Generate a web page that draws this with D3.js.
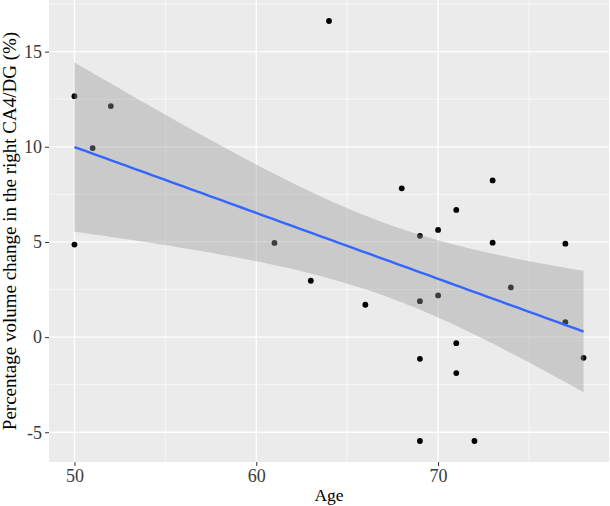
<!DOCTYPE html>
<html>
<head>
<meta charset="utf-8">
<script src="https://d3js.org/d3.v7.min.js"></script>
<style>
  body { margin: 0; background: #fff; }
  text { font-family: "Liberation Serif", "Times New Roman", serif; }
</style>
</head>
<body>
<svg id="chart" width="610" height="506"></svg>
<script>
  // values
  const ages = [50, 50, 51, 52, 61, 63, 64, 66, 68, 69, 69, 69, 69, 70, 70, 71, 71, 71, 72, 73, 73, 74, 77, 77, 78];
  const change = [12.66, 4.86, 9.93, 12.14, 4.95, 2.96, 16.61, 1.70, 7.82, 5.32, 1.89, -1.14, -5.46, 5.63, 2.19,
                  6.68, -0.32, -1.89, -5.46, 8.23, 4.96, 2.61, 4.91, 0.79, -1.09];
  const xTicks = [50, 60, 70];
  const yTicks = [-5, 0, 5, 10, 15];
  const xMinor = [55, 65, 75];
  const yMinor = [-2.5, 2.5, 7.5, 12.5, 17.5];

  const svg = d3.select("#chart");
  const margin = { top: 0, right: 1, bottom: 44, left: 49 };
  const width = +svg.attr("width") - margin.left - margin.right;
  const height = +svg.attr("height") - margin.top - margin.bottom;

  const data = ages.map((a, i) => ({ age: a, val: change[i] }));

  // linear fit + 95% band, like geom_smooth(method = "lm")
  const n = data.length;
  const mx = d3.mean(ages), my = d3.mean(change);
  const sxx = d3.sum(ages, a => (a - mx) * (a - mx));
  const sxy = d3.sum(data, d => (d.age - mx) * (d.val - my));
  const slope = sxy / sxx, icpt = my - slope * mx;
  const sse = d3.sum(data, d => Math.pow(d.val - (icpt + slope * d.age), 2));
  const s = Math.sqrt(sse / (n - 2));
  const tq = 2.0687; // qt(0.975, 23)
  const xr = d3.extent(ages);
  const fit = d3.range(80).map(i => {
    const x = xr[0] + (xr[1] - xr[0]) * i / 79;
    const y = icpt + slope * x;
    const se = s * Math.sqrt(1 / n + (x - mx) * (x - mx) / sxx);
    return { x: x, y: y, lo: y - tq * se, hi: y + tq * se };
  });

  const ye = d3.extent(change);
  const xPad = (xr[1] - xr[0]) * 0.05, yPad = (ye[1] - ye[0]) * 0.05;
  const x = d3.scaleLinear().domain([xr[0] - xPad, xr[1] + xPad]).range([0, width]);
  const y = d3.scaleLinear().domain([ye[0] - yPad, ye[1] + yPad]).range([height, 0]);

  const g = svg.append("g").attr("transform", "translate(" + margin.left + "," + margin.top + ")");

  g.append("rect").attr("width", width).attr("height", height).attr("fill", "#ebebeb");

  // gridlines
  g.selectAll(".ymin").data(yMinor).join("line")
    .attr("x1", 0).attr("x2", width).attr("y1", d => y(d)).attr("y2", d => y(d))
    .attr("stroke", "#fff").attr("stroke-width", 0.6);
  g.selectAll(".xmin").data(xMinor).join("line")
    .attr("y1", 0).attr("y2", height).attr("x1", d => x(d)).attr("x2", d => x(d))
    .attr("stroke", "#fff").attr("stroke-width", 0.6);
  g.selectAll(".ymaj").data(yTicks).join("line")
    .attr("x1", 0).attr("x2", width).attr("y1", d => y(d)).attr("y2", d => y(d))
    .attr("stroke", "#fff").attr("stroke-width", 1.3);
  g.selectAll(".xmaj").data(xTicks).join("line")
    .attr("y1", 0).attr("y2", height).attr("x1", d => x(d)).attr("x2", d => x(d))
    .attr("stroke", "#fff").attr("stroke-width", 1.3);

  // points
  g.selectAll("circle").data(data).join("circle")
    .attr("cx", d => x(d.age)).attr("cy", d => y(d.val)).attr("r", 2.9)
    .attr("fill", "#000");

  // confidence band over points
  g.append("path").datum(fit)
    .attr("d", d3.area().x(d => x(d.x)).y0(d => y(d.lo)).y1(d => y(d.hi)))
    .attr("fill", "#999999").attr("fill-opacity", 0.4);

  g.append("path").datum(fit)
    .attr("d", d3.line().x(d => x(d.x)).y(d => y(d.y)))
    .attr("fill", "none").attr("stroke", "#3366ff").attr("stroke-width", 2.4);

  // axes
  const xAxis = d3.axisBottom(x).tickValues(xTicks).tickFormat(d => String(d)).tickSize(4).tickPadding(3);
  const yAxis = d3.axisLeft(y).tickValues(yTicks).tickFormat(d => String(d)).tickSize(4).tickPadding(3);

  const xa = g.append("g").attr("transform", "translate(0," + height + ")").call(xAxis);
  const ya = g.append("g").call(yAxis);
  [xa, ya].forEach(a => {
    a.attr("font-family", "'Liberation Serif', serif").attr("font-size", 18);
    a.select(".domain").remove();
    a.selectAll(".tick line").attr("stroke", "#333").attr("stroke-width", 1);
    a.selectAll(".tick text").attr("fill", "#3a3a3a");
  });

  svg.append("text")
    .text("Age")
    .attr("x", margin.left + width / 2).attr("y", 501)
    .attr("text-anchor", "middle")
    .style("font-size", "17.5px");

  svg.append("text")
    .text("Percentage volume change in the right CA4/DG (%)")
    .attr("transform", "translate(16," + (margin.top + height / 2) + ") rotate(-90)")
    .attr("text-anchor", "middle")
    .style("font-size", "19px");
</script>
</body>
</html>
